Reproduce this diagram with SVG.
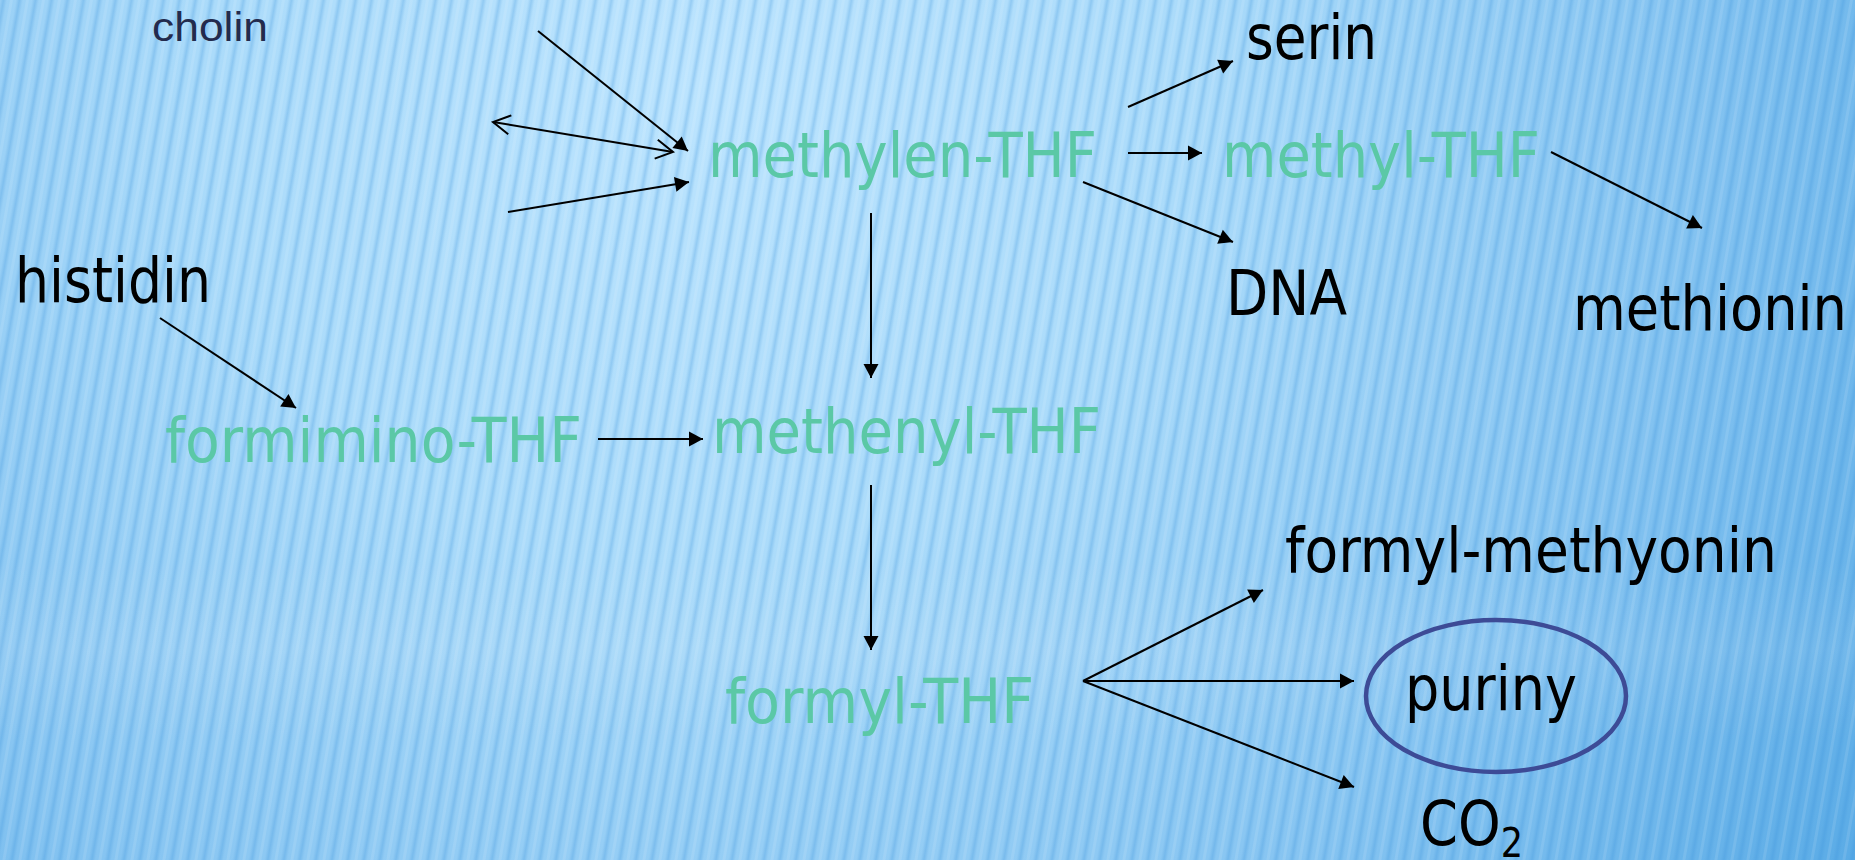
<svg xmlns="http://www.w3.org/2000/svg" width="1855" height="860" viewBox="0 0 1855 860">
  <defs>
    <radialGradient id="bg" gradientUnits="userSpaceOnUse" cx="700" cy="80" r="1400">
      <stop offset="0" stop-color="#bce4fe"/>
      <stop offset="0.35" stop-color="#abdbfa"/>
      <stop offset="0.7" stop-color="#86c4f1"/>
      <stop offset="1" stop-color="#5aabe6"/>
    </radialGradient>
    <linearGradient id="stripeGrad" x1="0" y1="0" x2="1" y2="0">
      <stop offset="0" stop-color="#3a92da" stop-opacity="0"/>
      <stop offset="0.5" stop-color="#3a92da" stop-opacity="0.28"/>
      <stop offset="1" stop-color="#3a92da" stop-opacity="0"/>
    </linearGradient>
    <pattern id="stripes" patternUnits="userSpaceOnUse" width="16" height="860" patternTransform="skewX(-10)">
      <rect x="0" y="0" width="7" height="860" fill="url(#stripeGrad)"/>
      <rect x="10" y="0" width="3" height="860" fill="#ffffff" opacity="0.1"/>
    </pattern>
    <linearGradient id="band" x1="0" y1="0" x2="0" y2="1">
      <stop offset="0" stop-color="#ffffff" stop-opacity="0"/>
      <stop offset="0.5" stop-color="#ffffff" stop-opacity="0.08"/>
      <stop offset="1" stop-color="#ffffff" stop-opacity="0"/>
    </linearGradient>
    <marker id="head" markerUnits="userSpaceOnUse" markerWidth="16" markerHeight="16" viewBox="0 -8 15 16" refX="14" refY="0" orient="auto">
      <path d="M0,-7.5 L14,0 L0,7.5 Z" fill="#000"/>
    </marker>
    <marker id="open" markerUnits="userSpaceOnUse" markerWidth="22" markerHeight="24" viewBox="-2 -12 22 24" refX="17" refY="0" orient="auto-start-reverse">
      <path d="M0,-9.5 L17,0 L0,9.5" fill="none" stroke="#000" stroke-width="2"/>
    </marker>
    <style>
      .lbl { font-family: "DejaVu Sans", Verdana, sans-serif; font-size: 62px; fill: #000; }
      .thf { font-family: "DejaVu Sans", Verdana, sans-serif; font-size: 62px; fill: #5bc8a6; }
      .small { font-family: "Liberation Sans", Arial, sans-serif; font-size: 41px; fill: #232b4d; }
      .c { stroke: #000; stroke-width: 2; fill: none; }
      .f { marker-end: url(#head); }
    </style>
  </defs>

  <rect width="1855" height="860" fill="url(#bg)"/>
  <rect x="-300" width="2300" height="860" fill="url(#stripes)"/>
  <rect y="560" width="1855" height="180" fill="url(#band)"/>

  <g id="connectors">
    <line class="c f" x1="538" y1="31" x2="688" y2="151"/>
    <line class="c" x1="493" y1="122" x2="673" y2="152" marker-start="url(#open)" marker-end="url(#open)"/>
    <line class="c f" x1="508" y1="212" x2="689" y2="182"/>
    <line class="c f" x1="1128" y1="107" x2="1233" y2="61"/>
    <line class="c f" x1="1128" y1="153" x2="1202" y2="153"/>
    <line class="c f" x1="1083" y1="182" x2="1233" y2="242"/>
    <line class="c f" x1="1551" y1="152" x2="1702" y2="228"/>
    <line class="c f" x1="871" y1="213" x2="871" y2="378"/>
    <line class="c f" x1="871" y1="485" x2="871" y2="650"/>
    <line class="c f" x1="160" y1="318" x2="296" y2="408"/>
    <line class="c f" x1="598" y1="439" x2="703" y2="439"/>
    <line class="c f" x1="1083" y1="681" x2="1263" y2="590"/>
    <line class="c f" x1="1083" y1="681" x2="1354" y2="681"/>
    <line class="c f" x1="1083" y1="681" x2="1354" y2="787"/>
  </g>

  <g id="cholin"><text class="small" x="152" y="41" textLength="116" lengthAdjust="spacingAndGlyphs">cholin</text></g>
  <g id="methylen-thf"><text class="thf" x="708" y="177" textLength="389" lengthAdjust="spacingAndGlyphs">methylen-THF</text></g>
  <g id="serin"><text class="lbl" x="1246" y="59" textLength="131" lengthAdjust="spacingAndGlyphs">serin</text></g>
  <g id="methyl-thf"><text class="thf" x="1222" y="177" textLength="318" lengthAdjust="spacingAndGlyphs">methyl-THF</text></g>
  <g id="dna"><text class="lbl" x="1226" y="315" textLength="121" lengthAdjust="spacingAndGlyphs">DNA</text></g>
  <g id="methionin"><text class="lbl" x="1573" y="330" textLength="274" lengthAdjust="spacingAndGlyphs">methionin</text></g>
  <g id="histidin"><text class="lbl" x="15" y="302" textLength="196" lengthAdjust="spacingAndGlyphs">histidin</text></g>
  <g id="formimino-thf"><text class="thf" x="165" y="462" textLength="417" lengthAdjust="spacingAndGlyphs">formimino-THF</text></g>
  <g id="methenyl-thf"><text class="thf" x="712" y="453" textLength="389" lengthAdjust="spacingAndGlyphs">methenyl-THF</text></g>
  <g id="formyl-thf"><text class="thf" x="725" y="723" textLength="309" lengthAdjust="spacingAndGlyphs">formyl-THF</text></g>
  <g id="formyl-methyonin"><text class="lbl" x="1285" y="572" textLength="492" lengthAdjust="spacingAndGlyphs">formyl-methyonin</text></g>
  <g id="puriny">
    <ellipse cx="1496" cy="696" rx="130" ry="76" fill="none" stroke="#3d4b96" stroke-width="4.5"/>
    <text class="lbl" x="1405" y="710" textLength="172" lengthAdjust="spacingAndGlyphs">puriny</text>
  </g>
  <g id="co2"><text class="lbl" x="1420" y="845" textLength="103" lengthAdjust="spacingAndGlyphs">CO<tspan font-size="40" dy="12">2</tspan></text></g>
</svg>
